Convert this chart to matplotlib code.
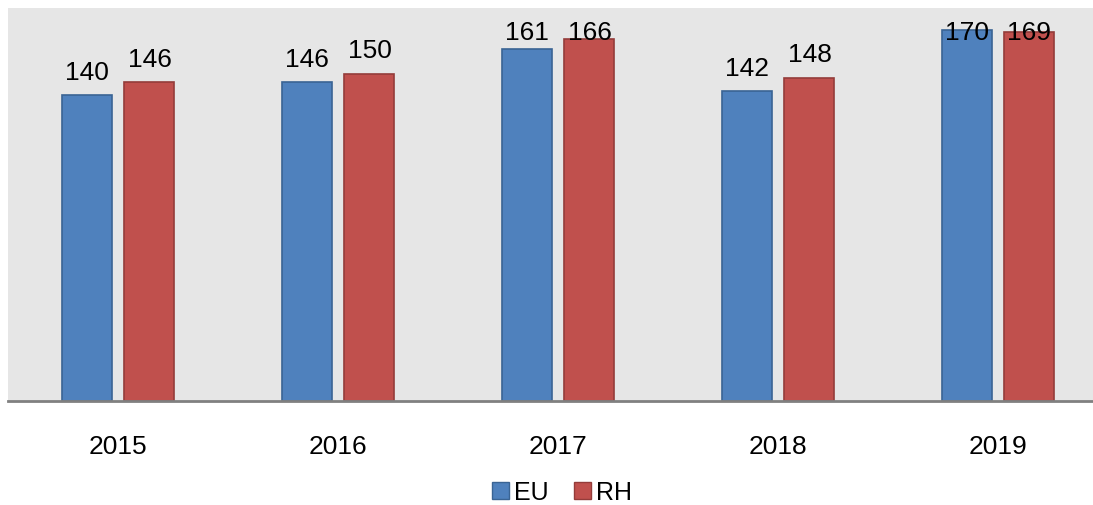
import matplotlib
matplotlib.use("Agg")
import matplotlib.pyplot as plt
import numpy as np
from matplotlib.patches import Patch

years = ["2015", "2016", "2017", "2018", "2019"]
eu = [140, 146, 161, 142, 170]
rh = [146, 150, 166, 148, 169]

plt.rcParams["font.family"] = ["Liberation Sans", "DejaVu Sans"]

BLUE, BLUE_EDGE = "#4F81BD", "#3A6494"
RED, RED_EDGE = "#C0504D", "#943C3A"

fig = plt.figure(figsize=(10.93, 5.06), dpi=100)
W, H = 1093, 506
ax = fig.add_axes([8 / W, (H - 402) / H, (W - 8) / W, 393 / H])
ax.set_facecolor("#E6E6E6")

x = np.arange(len(years))
width = 0.227
off = 0.143
ax.bar(x - off, eu, width, color=BLUE, edgecolor=BLUE_EDGE, linewidth=1.2, label="EU")
ax.bar(x + off, rh, width, color=RED, edgecolor=RED_EDGE, linewidth=1.2, label="RH")

ax.set_ylim(0, 180)
ax.set_xlim(-0.5, (W - 8) / 220 - 0.5)

# value labels, pushed down when they would run past the top
for xs, vals in ((x - off, eu), (x + off, rh)):
    for xi, v in zip(xs, vals):
        yb = min(v + 7.5, 166)
        ax.text(xi, yb, str(v), ha="center", va="baseline", fontsize=19)

for s in ["top", "right", "left"]:
    ax.spines[s].set_visible(False)
ax.spines["bottom"].set_color("#808080")
ax.spines["bottom"].set_linewidth(2)
ax.set_yticks([])
ax.set_xticks(x)
ax.set_xticklabels(years, fontsize=19)
ax.tick_params(axis="x", length=0, pad=24)

handles = [Patch(facecolor=BLUE, edgecolor=BLUE_EDGE, label="EU"),
           Patch(facecolor=RED, edgecolor=RED_EDGE, label="RH")]
fig.legend(handles=handles, loc="center", bbox_to_anchor=(562 / W, 1 - 493 / H),
           ncol=2, frameon=False, fontsize=18, handlelength=0.7, handleheight=0.7,
           handletextpad=0.2, columnspacing=1.0, borderpad=0.1)

fig.savefig("out.png", dpi=100)
